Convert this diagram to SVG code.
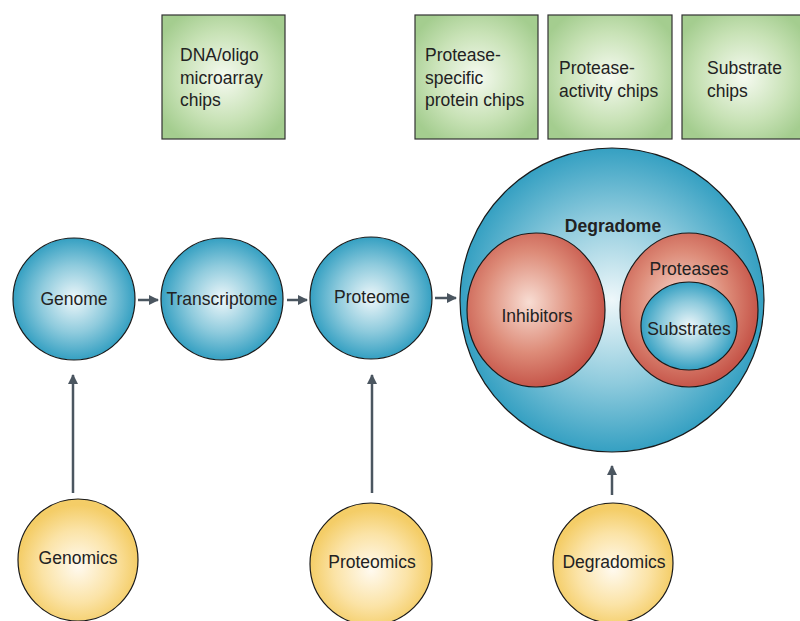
<svg xmlns="http://www.w3.org/2000/svg" width="800" height="621" viewBox="0 0 800 621">
<defs>
<radialGradient id="gBlue" cx="50%" cy="50%" r="50%">
<stop offset="0" stop-color="#eef7fa"/>
<stop offset="0.55" stop-color="#8fcbdd"/>
<stop offset="1" stop-color="#35a0c2"/>
</radialGradient>
<radialGradient id="gRed" cx="45%" cy="45%" r="55%">
<stop offset="0" stop-color="#f8ddd3"/>
<stop offset="0.6" stop-color="#dd8b78"/>
<stop offset="1" stop-color="#c6564a"/>
</radialGradient>
<radialGradient id="gYellow" cx="50%" cy="55%" r="50%">
<stop offset="0" stop-color="#fffaf0"/>
<stop offset="0.6" stop-color="#fbe3a6"/>
<stop offset="1" stop-color="#f4cd67"/>
</radialGradient>
<radialGradient id="gGreen" cx="50%" cy="50%" r="60%">
<stop offset="0" stop-color="#f6faf1"/>
<stop offset="0.6" stop-color="#c8e2b6"/>
<stop offset="1" stop-color="#a4cd8f"/>
</radialGradient>
<marker id="ah" viewBox="0 0 10 10" refX="9" refY="5" markerWidth="4" markerHeight="4" orient="auto" markerUnits="strokeWidth">
<path d="M0,0 L10,5 L0,10 z" fill="#4b5660"/>
</marker>
</defs>
<style>
text{font-family:"Liberation Sans",Arial,sans-serif;font-size:17.5px;fill:#222}
.c{text-anchor:middle}
.b{font-weight:bold}
.blue{fill:url(#gBlue);stroke:#1a1a1a;stroke-width:1.2}
.red{fill:url(#gRed);stroke:#1a1a1a;stroke-width:1.2}
.yel{fill:url(#gYellow);stroke:#1a1a1a;stroke-width:1.2}
.grn{fill:url(#gGreen);stroke:#333;stroke-width:1.2}
.ar{stroke:#4b5660;stroke-width:2.5;fill:none;marker-end:url(#ah)}
</style>
<rect width="800" height="621" fill="#fff"/>

<g id="chip-dna"><rect class="grn" x="162" y="15" width="123" height="124"/>
<text x="180" y="61">DNA/oligo</text><text x="180" y="84">microarray</text><text x="180" y="106">chips</text></g>
<g id="chip-protease-specific"><rect class="grn" x="415" y="15" width="123" height="124"/>
<text x="425" y="61">Protease-</text><text x="425" y="84">specific</text><text x="425" y="106">protein chips</text></g>
<g id="chip-protease-activity"><rect class="grn" x="548" y="15" width="124" height="124"/>
<text x="559" y="74">Protease-</text><text x="559" y="97">activity chips</text></g>
<g id="chip-substrate"><rect class="grn" x="682" y="15" width="124" height="124"/>
<text x="707" y="74">Substrate</text><text x="707" y="97">chips</text></g>

<g id="genome"><circle class="blue" cx="74" cy="299" r="61"/><text class="c" x="74" y="305">Genome</text></g>
<g id="transcriptome"><circle class="blue" cx="222" cy="299" r="61"/><text class="c" x="222" y="305">Transcriptome</text></g>
<g id="proteome"><circle class="blue" cx="371" cy="298" r="61"/><text class="c" x="372" y="303">Proteome</text></g>

<g id="degradome"><circle class="blue" cx="612" cy="300" r="152"/>
<text class="c b" x="613" y="232">Degradome</text></g>
<g id="inhibitors"><ellipse class="red" cx="536" cy="310" rx="69" ry="77"/><text class="c" x="537" y="322">Inhibitors</text></g>
<g id="proteases"><ellipse class="red" cx="689" cy="310" rx="69" ry="77"/><text class="c" x="689" y="275">Proteases</text></g>
<g id="substrates"><ellipse class="blue" cx="689" cy="326" rx="48" ry="44"/><text class="c" x="689" y="335">Substrates</text></g>

<g id="genomics"><ellipse class="yel" cx="78" cy="560" rx="60" ry="61"/><text class="c" x="78" y="564">Genomics</text></g>
<g id="proteomics"><ellipse class="yel" cx="371" cy="564" rx="61" ry="61"/><text class="c" x="372" y="568">Proteomics</text></g>
<g id="degradomics"><ellipse class="yel" cx="613" cy="563" rx="60" ry="60"/><text class="c" x="614" y="568">Degradomics</text></g>

<g id="connectors">
<line class="ar" x1="138" y1="300" x2="158" y2="300"/>
<line class="ar" x1="287" y1="300" x2="307" y2="300"/>
<line class="ar" x1="435" y1="298" x2="456" y2="298"/>
<line class="ar" x1="73" y1="493" x2="73" y2="375"/>
<line class="ar" x1="372" y1="493" x2="372" y2="375"/>
<line class="ar" x1="612" y1="495" x2="612" y2="466"/>
</g>
</svg>
